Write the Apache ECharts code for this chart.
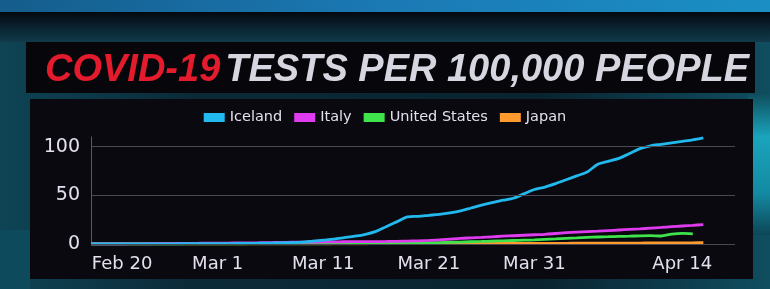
<!DOCTYPE html>
<html><head><meta charset="utf-8">
<script src="https://cdn.jsdelivr.net/npm/echarts@6/dist/echarts.min.js"></script>
<style>html,body{margin:0;padding:0;background:#0b2530;}#c{width:770px;height:289px;}</style>
</head><body><div id="c"></div>
<script>
// Categories: daily dates
const categories = [
 'Feb 18','Feb 19','Feb 20','Feb 21','Feb 22','Feb 23','Feb 24','Feb 25','Feb 26','Feb 27','Feb 28','Feb 29',
 'Mar 1','Mar 2','Mar 3','Mar 4','Mar 5','Mar 6','Mar 7','Mar 8','Mar 9','Mar 10','Mar 11','Mar 12','Mar 13','Mar 14','Mar 15','Mar 16','Mar 17','Mar 18','Mar 19','Mar 20','Mar 21','Mar 22','Mar 23','Mar 24','Mar 25','Mar 26','Mar 27','Mar 28','Mar 29','Mar 30','Mar 31',
 'Apr 1','Apr 2','Apr 3','Apr 4','Apr 5','Apr 6','Apr 7','Apr 8','Apr 9','Apr 10','Apr 11','Apr 12','Apr 13','Apr 14','Apr 15','Apr 16','Apr 17','Apr 18','Apr 19'
];
const tickLabels = ['Feb 20','Mar 1','Mar 11','Mar 21','Mar 31','Apr 14'];
const yTicks = [0, 50, 100];

const iceland = [
 0.1,0.1,0.1,0.1,0.1,0.2,0.2,0.2,0.2,0.3,
 0.3,0.3,0.4,0.4,0.5,0.6,0.8,1,1.2,1.5,
 2,3,4,5,6.5,8,10,13,18,23,
 28,28.5,29.5,30.5,32,34,37,40,42.5,45,
 47,51.5,56,58.5,62,66,70,74,82,85,
 88,93,98,101,102.5,104,105.5,107,109
];
const italy = [
 0,0,0,0,0.1,0.2,0.3,0.4,0.5,0.6,
 0.7,0.8,0.9,1,1.1,1.2,1.3,1.5,1.6,1.8,
 1.9,2,2.1,2.2,2.3,2.4,2.5,2.5,2.6,2.8,
 3,3.3,3.7,4.2,5,5.8,6.3,6.8,7.4,8,
 8.5,9,9.5,10,10.8,11.6,12.2,12.7,13.2,13.8,
 14.4,15,15.6,16.3,17,17.8,18.5,19.2,20
];
const unitedStates = [
 0,0,0,0,0,0,0,0,0,0,
 0,0,0,0,0,0.05,0.05,0.1,0.1,0.1,
 0.1,0.2,0.2,0.3,0.3,0.4,0.5,0.6,0.7,0.8,
 0.9,1.1,1.3,1.5,1.8,2,2.3,2.6,3,3.3,
 3.6,3.9,4.2,4.7,5.2,5.8,6.2,6.8,7.2,7.5,
 7.8,8,8.4,8.6,8.2,10.2,11,10.5
];
const japan = [
 0.05,0.05,0.05,0.06,0.06,0.07,0.07,0.08,0.08,0.09,
 0.1,0.1,0.11,0.12,0.13,0.14,0.15,0.16,0.17,0.18,
 0.2,0.21,0.22,0.23,0.25,0.26,0.28,0.3,0.31,0.33,
 0.35,0.37,0.39,0.41,0.43,0.45,0.47,0.5,0.52,0.55,
 0.58,0.6,0.63,0.66,0.7,0.73,0.77,0.8,0.84,0.88,
 0.92,0.96,1.0,1.05,1.1,1.15,1.2,1.25,1.3
];

const colors = {Iceland:'#22b9ef', Italy:'#df3cf0', 'United States':'#3fe34c', Japan:'#ff9a2e'};

const chart = echarts.init(document.getElementById('c'), null, {renderer:'canvas'});

function lin(x1,y1,x2,y2,stops){return {type:'linear',x:x1,y:y1,x2:x2,y2:y2,colorStops:stops};}

function mkSeries(name, data){
  return {name:name, type:'line', data:data, smooth:0.3, symbol:'none',
    lineStyle:{width:2.8, color:colors[name]}, itemStyle:{color:colors[name]}};
}
const s = [mkSeries('Japan', japan), mkSeries('United States', unitedStates), mkSeries('Italy', italy), mkSeries('Iceland', iceland)];
s[0].markLine = {silent:true, symbol:'none', animation:false, label:{show:false},
  lineStyle:{color:'#4a4a52', width:1, type:'solid'},
  data: yTicks.map(v => ({yAxis:v}))};

chart.setOption({
  animation:false,
  backgroundColor:'#0b2530',
  graphic:{elements:[
    {type:'rect', z:-10, shape:{x:0,y:0,width:770,height:289}, style:{fill:lin(0,0,1,0,[{offset:0,color:'#0e4454'},{offset:0.25,color:'#0b2a38'},{offset:0.7,color:'#0a2330'},{offset:1,color:'#0f4e60'}])}},
    {type:'rect', z:-10, shape:{x:0,y:0,width:770,height:12}, style:{fill:lin(0,0,1,0,[{offset:0,color:'#145d8c'},{offset:0.5,color:'#1b79b4'},{offset:1,color:'#1a8fc4'}])}},
    {type:'rect', z:-10, shape:{x:0,y:12,width:770,height:30}, style:{fill:lin(0,0,0,1,[{offset:0,color:'#04080e'},{offset:0.55,color:'#0b2533'},{offset:1,color:'#103a4a'}])}},
    {type:'rect', z:-10, shape:{x:748,y:95,width:22,height:140}, style:{fill:lin(0,0,0,1,[{offset:0,color:'#0f5060'},{offset:0.3,color:'#1aa4bc'},{offset:0.7,color:'#138aa2'},{offset:1,color:'#0d4656'}])}},
    {type:'rect', z:-10, shape:{x:0,y:230,width:30,height:59}, style:{fill:'#0d4b5c'}},
    {type:'rect', z:-9, shape:{x:26,y:42,width:729,height:51}, style:{fill:'#07070b'}},
    {type:'rect', z:-9, shape:{x:30,y:99,width:723,height:180}, style:{fill:'#09090f'}}
  ]},
  title:{
    left:40, top:45,
    text:'{a|COVID-19} {b|TESTS PER 100,000 PEOPLE}',
    textStyle:{rich:{
      a:{fontFamily:'Liberation Sans', fontSize:38, fontWeight:'bold', fontStyle:'italic', color:'#e41b2c', lineHeight:42},
      b:{fontFamily:'Liberation Sans', fontSize:38, fontWeight:'bold', fontStyle:'italic', color:'#d6d6e0', lineHeight:42}
    }}
  },
  legend:{
    top:105, left:'center',
    data:['Iceland','Italy','United States','Japan'],
    icon:'rect', itemWidth:21, itemHeight:9, itemGap:12,
    textStyle:{color:'#e4dfec', fontSize:14.5, fontFamily:'DejaVu Sans'}
  },
  grid:{left:91, right:35, top:137, bottom:45, containLabel:false},
  xAxis:{
    type:'category', boundaryGap:false, data:categories,
    axisLine:{show:false}, axisTick:{show:false}, splitLine:{show:false},
    axisLabel:{
      interval:(i, v) => tickLabels.indexOf(v) >= 0,
      color:'#e6e0ee', fontSize:18, fontFamily:'DejaVu Sans', margin:11,
      formatter:(v) => v === 'Feb 20' ? '{f|' + v + '}' : v,
      rich:{f:{color:'#e6e0ee', fontSize:18, fontFamily:'DejaVu Sans', padding:[0,0,0,20]}}
    }
  },
  yAxis:{
    type:'value', min:0, max:110, interval:50,
    axisLine:{show:true, lineStyle:{color:'#5a5a62', width:1}},
    axisTick:{show:false}, splitLine:{show:false},
    axisLabel:{
      color:'#e6e0ee', fontSize:19, fontFamily:'DejaVu Sans', margin:11,
      formatter:(v) => yTicks.indexOf(v) >= 0 ? String(v) : ''
    }
  },
  series:s
});
</script></body></html>
